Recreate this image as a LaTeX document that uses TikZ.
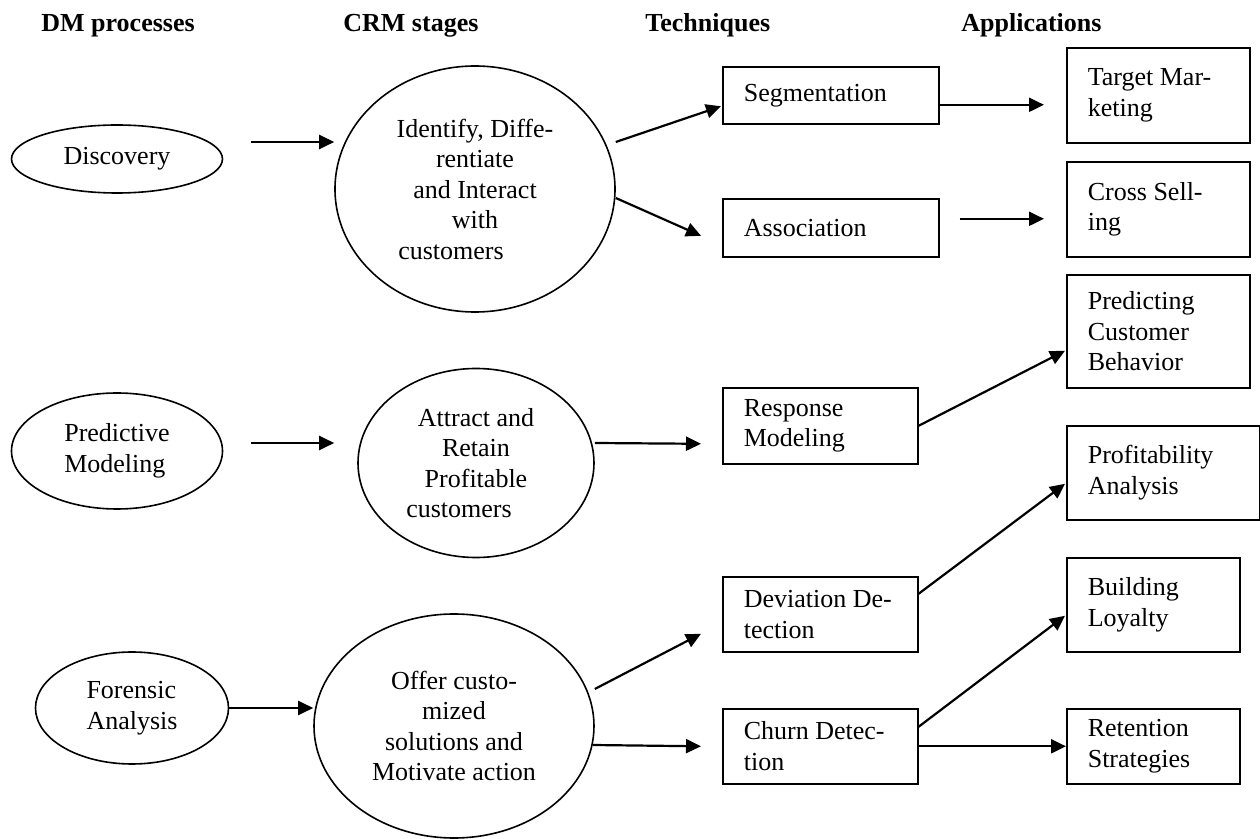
\documentclass[tikz,border=0pt]{standalone}
\usepackage{fontspec}
\setmainfont{Liberation Serif}
\usetikzlibrary{shapes.geometric,arrows.meta,calc}

\begin{document}
\begin{tikzpicture}
  [x=0.5pt,y=-0.5pt,
   every node/.style={font=\fontsize{13}{15.25}\selectfont},
   head/.style={anchor=base west,inner sep=0pt,font=\fontsize{13}{15.25}\selectfont\bfseries},
   dm/.style={draw,ellipse,line width=0.8pt,inner sep=0pt,align=flush left},
   crm/.style={draw,ellipse,line width=0.8pt,inner sep=0pt,align=center},
   box/.style={draw,rectangle,line width=0.8pt,anchor=north west,align=flush left,inner xsep=10.5pt,inner ysep=2pt},
   arr/.style={line width=1.1pt,-{Triangle[length=7.5pt,width=7pt]}}]
  \useasboundingbox (0,0) rectangle (1260,839);

  \node[head] (h1) at (41,32)  {DM processes};
  \node[head] (h2) at (343,32) {CRM stages};
  \node[head] (h3) at (645,32) {Techniques};
  \node[head] (h4) at (961,32) {Applications};

  \node[dm,minimum width=105.5pt,minimum height=34pt] (disc) at (117,159) {Discovery};
  \node[dm,minimum width=105.5pt,minimum height=58pt] (pred) at (117,451) {Predictive\\Modeling};
  \node[dm,minimum width=96.5pt,minimum height=56pt] (fore) at (132,708) {Forensic\\Analysis};

  \node[crm,minimum width=140pt,minimum height=123pt] (crm1) at (475,189)
    {Identify, Diffe-\\rentiate\\and Interact\\with\\customers\hspace*{24pt}};
  \node[crm,minimum width=118pt,minimum height=94.5pt] (crm2) at (476,463)
    {Attract and\\Retain\\Profitable\hspace*{17pt}\\customers\hspace*{17pt}};
  \node[crm,minimum width=140pt,minimum height=112pt] (crm3) at (454,726)
    {Offer custo-\\mized\\solutions and\\Motivate action};

  \node[box,text width=87pt,minimum height=28.5pt] (seg) at (722,66) {Segmentation};
  \node[box,text width=87pt,minimum height=29pt] (assoc) at (722,198) {Association};
  \node[box,text width=76.5pt,minimum height=38pt] (resp) at (722,387) {Response\\Modeling};
  \node[box,text width=76.5pt,minimum height=37.5pt] (dev) at (722,576) {Deviation De-\\tection};
  \node[box,text width=76.5pt,minimum height=37.5pt] (churn) at (722,708) {Churn Detec-\\tion};

  \node[box,text width=70.5pt,minimum height=47.5pt] (target) at (1066,47) {Target Mar-\\keting};
  \node[box,text width=70.5pt,minimum height=47.5pt] (cross) at (1066,161) {Cross Sell-\\ing};
  \node[box,text width=70.5pt,minimum height=56.5pt] (predict) at (1066,274) {Predicting\\Customer\\Behavior};
  \node[box,text width=75.5pt,minimum height=47pt] (profit) at (1066,425) {Profitability\\Analysis};
  \node[box,text width=65.5pt,minimum height=47pt] (build) at (1066,557) {Building\\Loyalty};
  \node[box,text width=65.5pt,minimum height=37.5pt] (ret) at (1066,708) {Retention\\Strategies};

  % DM processes to CRM stages
  \draw[arr] ($(disc.east)+(28,-17)$) -- ($(crm1.west)+(0,-47)$);
  \draw[arr] ($(pred.east)+(28,-8)$) -- ($(crm2.west)+(-23,-20)$);
  \draw[arr] (fore.east) -- ($(crm3.west)+(0,-18)$);

  % CRM stages to techniques
  \draw[arr] ($(crm1.east)+(0,-47)$) -- ($(seg.west)+(-1,11)$);
  \draw[arr] ($(crm1.east)+(0,9)$) -- ($(assoc.west)+(-21,8)$);
  \draw[arr] ($(crm2.east)+(0,-20)$) -- ($(resp.west)+(-21,18)$);
  \draw[arr] ($(crm3.east)+(0,-37)$) -- ($(dev.west)+(-21,19.5)$);
  \draw[arr] ($(crm3.east)+(-2,19)$) -- ($(churn.west)+(-21,0)$);

  % techniques to applications
  \draw[arr] ($(seg.east)+(0,9.5)$) -- ($(target.west)+(-22,9.5)$);
  \draw[arr] ($(assoc.east)+(20,-9)$) -- ($(cross.west)+(-22,9.5)$);
  \draw[arr] (resp.east) -- ($(predict.west)+(-1,19.5)$);
  \draw[arr] ($(dev.east)+(0,-20.5)$) -- ($(profit.west)+(-1,11)$);
  \draw[arr] ($(churn.east)+(0,-19.5)$) -- ($(build.west)+(-1,11)$);
  \draw[arr] (churn.east) -- (ret.west);

\end{tikzpicture}
\end{document}
